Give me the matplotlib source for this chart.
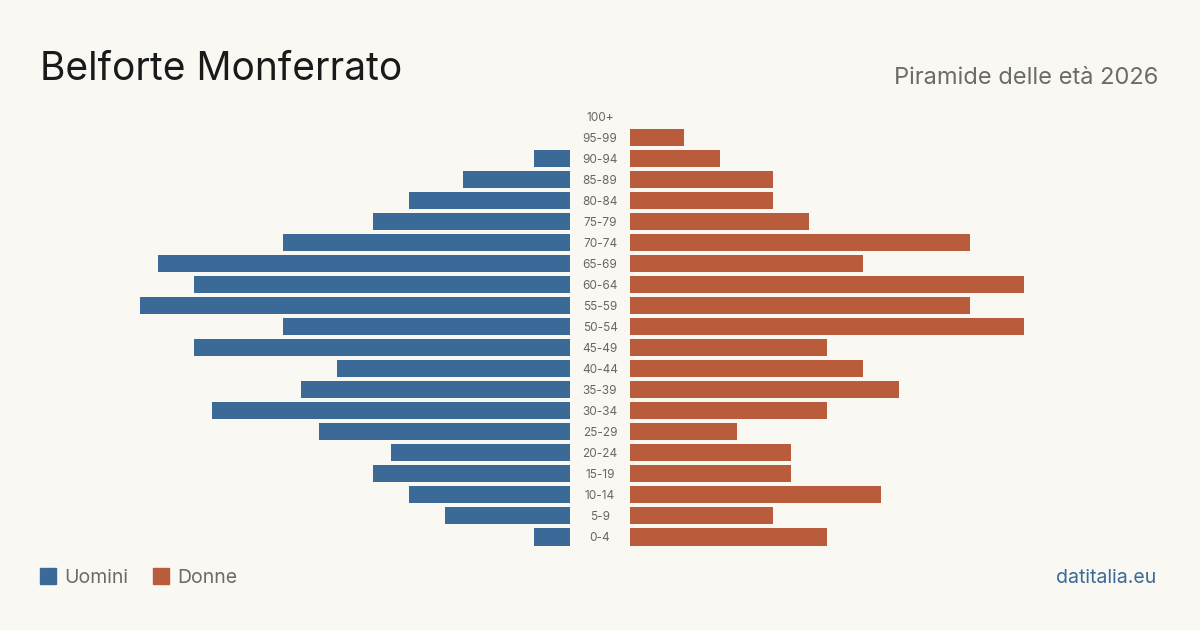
import matplotlib
matplotlib.use("Agg")
import matplotlib.pyplot as plt
from matplotlib.patches import Rectangle
import matplotlib.transforms as mtransforms

plt.rcParams['font.family'] = ['Inter', 'DejaVu Sans']

age_groups = ["0-4", "5-9", "10-14", "15-19", "20-24", "25-29", "30-34", "35-39",
              "40-44", "45-49", "50-54", "55-59", "60-64", "65-69", "70-74", "75-79",
              "80-84", "85-89", "90-94", "95-99", "100+"]
men = [2, 7, 9, 11, 10, 14, 20, 15, 13, 21, 16, 24, 21, 23, 16, 11, 9, 6, 2, 0, 0]
women = [11, 8, 14, 9, 9, 6, 11, 15, 13, 11, 22, 19, 22, 13, 19, 10, 8, 8, 5, 3, 0]

bg = "#f9f8f3"
blue = "#3b6a99"
orange = "#b95c3c"
W, H = 1200, 630

fig = plt.figure(figsize=(12, 6.3), dpi=100, facecolor=bg)

bottom = (H - 547.5) / H
height = 442 / H
axL = fig.add_axes([120 / W, bottom, 450 / W, height])
axR = fig.add_axes([630 / W, bottom, 450 / W, height])

ys = list(range(len(age_groups)))
axL.barh(ys, men, height=0.81, color=blue)
axR.barh(ys, women, height=0.81, color=orange)
axL.set_xlim(25.12, 0)
axR.set_xlim(0, 25.12)
for ax in (axL, axR):
    ax.set_ylim(-0.5, len(age_groups) - 0.5)
    ax.axis("off")
    ax.set_facecolor("none")

tr = mtransforms.blended_transform_factory(fig.transFigure, axL.transData)
off = mtransforms.ScaledTranslation(0, -1.5 / 100, fig.dpi_scale_trans)
for y, lab in zip(ys, age_groups):
    fig.text(600 / W, y, lab, transform=tr + off, ha="center", va="center",
             fontsize=8.5, color="#666666")

fig.text(40 / W, 1 - 80 / H, "Belforte Monferrato", fontsize=28, color="#1a1a1a",
         ha="left", va="baseline")
fig.text(1158 / W, 1 - 84 / H, "Piramide delle età 2026", fontsize=17, color="#6b6b6b",
         ha="right", va="baseline")

fig.patches.append(Rectangle((40 / W, 1 - 584 / H), 16 / W, 16 / H,
                             transform=fig.transFigure, color=blue))
fig.text(64 / W, 1 - 583 / H, "Uomini", fontsize=14, color="#6b6b6b", ha="left", va="baseline")
fig.patches.append(Rectangle((153 / W, 1 - 584 / H), 16 / W, 16 / H,
                             transform=fig.transFigure, color=orange))
fig.text(177 / W, 1 - 583 / H, "Donne", fontsize=14, color="#6b6b6b", ha="left", va="baseline")
fig.text(1156 / W, 1 - 583 / H, "datitalia.eu", fontsize=14, color=blue, ha="right", va="baseline")

fig.savefig("out.png", dpi=100, facecolor=bg)
